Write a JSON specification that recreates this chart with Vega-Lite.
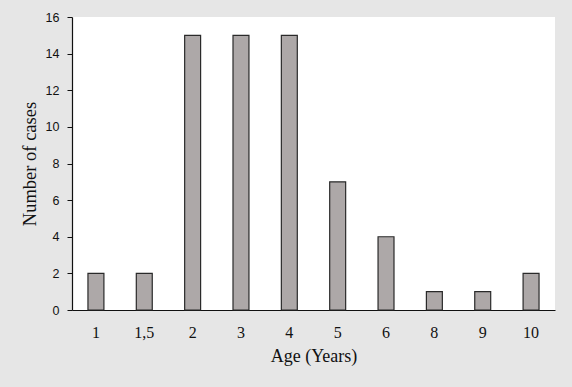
{
  "$schema": "https://vega.github.io/schema/vega-lite/v6.json",
  "autosize": {"type": "none"},
  "width": 483,
  "height": 293,
  "padding": {"left": 72, "top": 17, "right": 17, "bottom": 77},
  "background": "#e6e6e6",
  "config": {
    "view": {"fill": "white", "stroke": null}
  },
  "data": {
    "values": [
      {"age": "1", "cases": 2},
      {"age": "1,5", "cases": 2},
      {"age": "2", "cases": 15},
      {"age": "3", "cases": 15},
      {"age": "4", "cases": 15},
      {"age": "5", "cases": 7},
      {"age": "6", "cases": 4},
      {"age": "8", "cases": 1},
      {"age": "9", "cases": 1},
      {"age": "10", "cases": 2}
    ]
  },
  "mark": {"type": "bar", "fill": "#ada8a8", "stroke": "#2a2a2a", "strokeWidth": 1.2},
  "encoding": {
    "x": {
      "field": "age",
      "type": "ordinal",
      "sort": null,
      "scale": {"paddingInner": 0.67, "paddingOuter": 0.33},
      "axis": {
        "title": "Age (Years)",
        "titleFont": "Liberation Serif",
        "titleFontSize": 18,
        "titleFontWeight": "normal",
        "titleColor": "#111",
        "titlePadding": 7,
        "labelFont": "Liberation Serif",
        "labelFontSize": 16,
        "labelColor": "#111",
        "labelAngle": 0,
        "labelPadding": 14,
        "ticks": false,
        "domainColor": "#111",
        "domainWidth": 1.2
      }
    },
    "y": {
      "field": "cases",
      "type": "quantitative",
      "scale": {"domain": [0, 16], "nice": false},
      "axis": {
        "title": "Number of cases",
        "titleFont": "Liberation Serif",
        "titleFontSize": 18.5,
        "titleFontWeight": "normal",
        "titleColor": "#111",
        "titlePadding": 6,
        "values": [0, 2, 4, 6, 8, 10, 12, 14, 16],
        "labelFont": "Liberation Sans",
        "labelFontSize": 12.5,
        "labelColor": "#111",
        "labelPadding": 8,
        "tickSize": 5,
        "tickColor": "#111",
        "grid": false,
        "domainColor": "#111",
        "domainWidth": 1.2
      }
    }
  }
}
